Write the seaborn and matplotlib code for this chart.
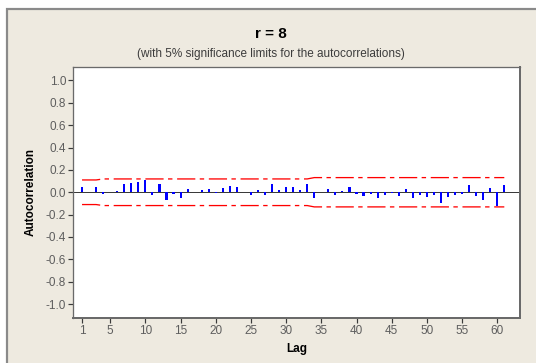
import matplotlib
matplotlib.use("Agg")
import matplotlib.pyplot as plt
import seaborn as sns
import pandas as pd
from matplotlib.patches import Rectangle

# Sample autocorrelations, lags 1..61
lags = list(range(1, 62))
acf = [
    0.044, 0.004, 0.044, -0.012, 0.002, 0.012, 0.075, 0.083, 0.092, 0.113,
    -0.024, 0.075, -0.071, -0.018, -0.047, 0.032, 0.002, 0.024, 0.032, -0.009,
    0.041, 0.057, 0.051, 0.002, -0.021, 0.024, -0.021, 0.071, 0.024, 0.051,
    0.044, 0.021, 0.075, -0.047, 0.002, 0.027, -0.024, 0.012, 0.051, -0.018,
    -0.030, -0.012, -0.047, -0.021, -0.009, -0.030, 0.027, -0.047, -0.024, -0.041,
    -0.024, -0.092, -0.041, -0.021, -0.012, 0.065, -0.030, -0.065, 0.036, -0.122,
    0.065,
]

# 5% significance limits (vertices of the limit polylines)
limit_lags = [1, 3, 4, 33, 34, 61]
limit_upper = [0.110, 0.110, 0.119, 0.119, 0.131, 0.131]
limit_lower = [-0.110, -0.110, -0.119, -0.119, -0.131, -0.131]

x_ticks = [1, 5, 10, 15, 20, 25, 30, 35, 40, 45, 50, 55, 60]
y_ticks = [-1.0, -0.8, -0.6, -0.4, -0.2, 0.0, 0.2, 0.4, 0.6, 0.8, 1.0]

title = "r = 8"
subtitle = "(with 5% significance limits for the autocorrelations)"
x_label = "Lag"
y_label = "Autocorrelation"

sns.set_theme(style="white")
plt.rcParams["font.family"] = ["Liberation Sans", "DejaVu Sans"]
plt.rcParams["axes.unicode_minus"] = False

W, H, DPI = 536, 363, 100
PX = 72.0 / DPI  # points per pixel

fig = plt.figure(figsize=(W / DPI, H / DPI), dpi=DPI, facecolor="white")

# beige graph panel with grey frame, kept behind the axes
panel = Rectangle((6.7 / W, -0.2), 1.5, (H - 8.5) / H + 0.2,
                  transform=fig.transFigure, facecolor="#EEEAE0",
                  edgecolor="#8A8A8A", linewidth=2.2 * PX, zorder=-10)
fig.patches.append(panel)

left, right, top, bottom = 73.3, 520.0, 67.0, 317.5
ax = fig.add_axes([left / W, (H - bottom) / H, (right - left) / W, (bottom - top) / H])
ax.set_zorder(1)
ax.set_facecolor("white")

df = pd.DataFrame({"lag": lags, "acf": acf})
sns.barplot(data=df, x="lag", y="acf", native_scale=True, color="#0000FF",
            saturation=1, width=0.3, linewidth=0, errorbar=None, ax=ax, zorder=3)

dash = (0, (14, 3.4, 3.4, 3.6))
lim_df = pd.DataFrame({"lag": limit_lags, "upper": limit_upper, "lower": limit_lower})
for col in ["upper", "lower"]:
    sns.lineplot(data=lim_df, x="lag", y=col, color="#FF0000", linewidth=1.3 * PX,
                 linestyle=dash, estimator=None, ax=ax, zorder=4)

ax.axhline(0, color="#3A3A3A", linewidth=1.0 * PX, zorder=2)

ax.set_xlim(-0.24, 63.23)
ax.set_ylim(-1.12, 1.12)
ax.set_xticks(x_ticks)
ax.set_xticklabels([str(t) for t in x_ticks])
ax.set_yticks(y_ticks)
ax.set_yticklabels([f"{t:.1f}" for t in y_ticks])

for name, sp in ax.spines.items():
    sp.set_visible(True)
    sp.set_color("#6A6A6A")
    sp.set_linewidth((2.0 if name in ("right", "bottom") else 1.3) * PX)

ax.tick_params(axis="both", direction="out", length=5 * PX, width=1.2 * PX,
               color="#3A3A3A", labelcolor="#5E5E5E", labelsize=8.5, pad=1.5)
ax.tick_params(axis="both", which="both", bottom=True, left=True)

ax.set_xlabel(x_label, fontsize=8.5, fontweight="bold", color="black")
ax.set_ylabel(y_label, fontsize=8.5, fontweight="bold", color="black")
ax.xaxis.set_label_coords(0.5, -(349 - bottom) / (bottom - top))
ax.xaxis.label.set_va("center")
ax.yaxis.set_label_coords((31 - left) / (right - left), 0.5)
ax.yaxis.label.set_va("center")

fig.text(271 / W, 1 - 34 / H, title, ha="center", va="center",
         fontsize=11, fontweight="bold", color="black")
fig.text(271 / W, 1 - 53.7 / H, subtitle, ha="center", va="center",
         fontsize=8.5, color="#3C3C3C")

fig.savefig("out.png", dpi=DPI, facecolor=fig.get_facecolor())
